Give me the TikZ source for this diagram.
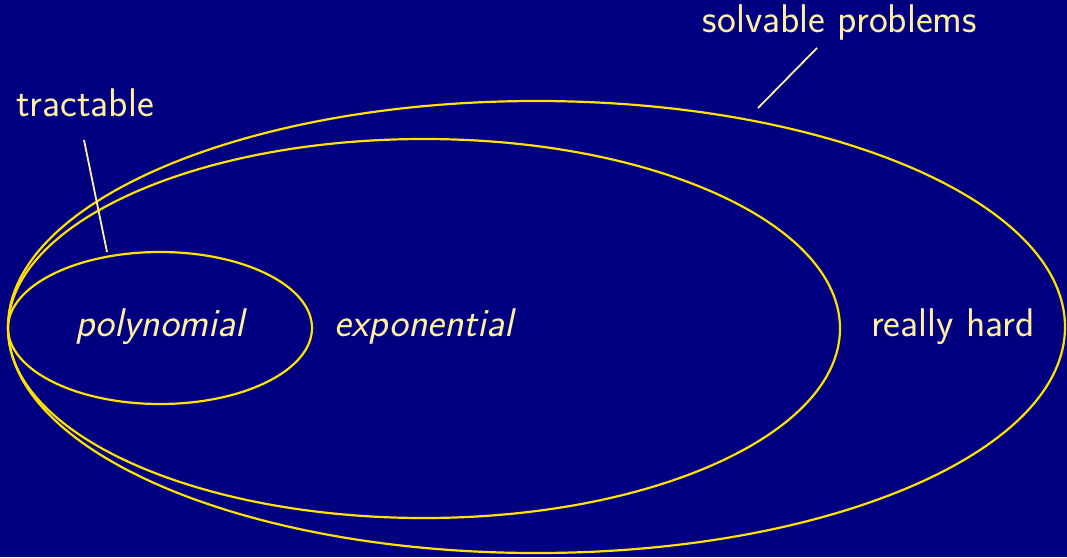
\documentclass[tikz,border=0pt]{standalone}
\usepackage{tikz}
\definecolor{bgblue}{RGB}{0,0,128}
\definecolor{ellyellow}{RGB}{255,226,0}
\definecolor{txtyellow}{RGB}{255,240,160}
\begin{document}
\begin{tikzpicture}[x=1pt,y=-1pt,
  set/.style={draw=ellyellow,line width=2.2pt},
  lbl/.style={text=txtyellow,font=\fontsize{40}{44}\selectfont\sffamily,inner sep=0pt},
  ilbl/.style={lbl,font=\fontsize{40}{44}\selectfont\sffamily\itshape},
  pointer/.style={draw=txtyellow,line width=1.8pt}]
\fill[bgblue] (0,0) rectangle (1067,557);
\useasboundingbox (0,0) rectangle (1067,557);
\draw[set] (536.5,327) ellipse [x radius=528.5, y radius=226];
\draw[set] (424,328.5) ellipse [x radius=416, y radius=189.5];
\draw[set] (160,328) ellipse [x radius=152, y radius=76];
\node[ilbl] (poly) at (160,327) {polynomial};
\node[ilbl] (expo) at (424,327) {exponential};
\node[lbl] (hard) at (953,327) {really hard};
\node[lbl] (tract) at (85,103) {tractable};
\node[lbl] (solv) at (840,23) {solvable problems};
\coordinate (tA) at (84,140);
\coordinate (tB) at (107,252);
\coordinate (sA) at (817,48);
\coordinate (sB) at (758,108);
\draw[pointer] (tA) -- (tB);
\draw[pointer] (sA) -- (sB);
\end{tikzpicture}
\end{document}
